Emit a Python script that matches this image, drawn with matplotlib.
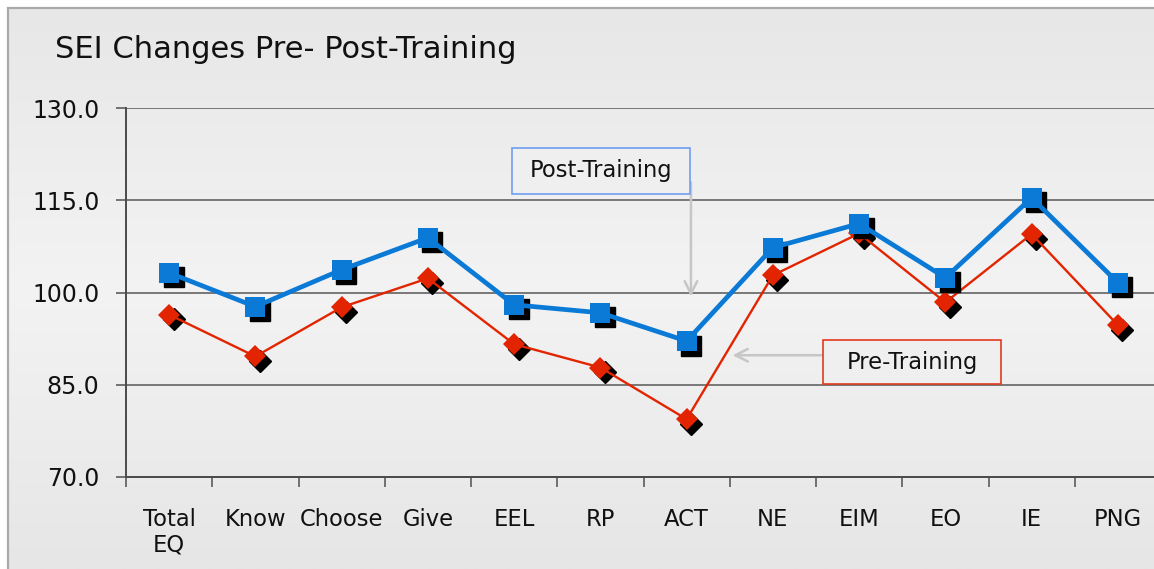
import numpy as np
import matplotlib
matplotlib.use("Agg")
import matplotlib.pyplot as plt
import matplotlib.transforms as mtransforms
from matplotlib.patches import Rectangle
from matplotlib.colors import LinearSegmentedColormap

categories = ["Total\nEQ", "Know", "Choose", "Give", "EEL", "RP", "ACT",
              "NE", "EIM", "EO", "IE", "PNG"]
post_training = [103.2, 97.7, 103.7, 108.9, 98.0, 96.7, 92.1,
                 107.3, 111.2, 102.4, 115.4, 101.6]
pre_training = [96.4, 89.6, 97.6, 102.3, 91.6, 87.8, 79.4,
                102.8, 109.6, 98.4, 109.5, 94.7]
y_ticks = [70.0, 85.0, 100.0, 115.0, 130.0]
title = "SEI Changes Pre- Post-Training"

plt.rcParams['font.family'] = ['DejaVu Sans']

W, H = 1154, 569
fig = plt.figure(figsize=(W / 100, H / 100), dpi=100)
fig.patch.set_facecolor("white")

# background gradient panel
bg = fig.add_axes([8 / W, 0, 1 - 8 / W + 0.01, 1 - 8 / H], zorder=-5)
cmap = LinearSegmentedColormap.from_list(
    "bg", [(0.0, "#e7e7e7"), (0.5, "#f3f3f3"), (1.0, "#e6e6e6")])
grad = np.linspace(0, 1, 256).reshape(-1, 1)
bg.imshow(grad, aspect="auto", cmap=cmap, extent=[0, 1, 0, 1], origin="upper")
bg.set_xlim(0, 1)
bg.set_ylim(0, 1)
bg.axis("off")
fig.patches.append(Rectangle((8 / W, -0.01), 1.0, 1 - 8 / H + 0.01,
                             transform=fig.transFigure, facecolor="none",
                             edgecolor="#a9a9a9", linewidth=1.6, zorder=-4))

left = 126 / W
right = 1161 / W
bottom = 1 - 477 / H
top = 1 - 108 / H
ax = fig.add_axes([left, bottom, right - left, top - bottom])
ax.set_facecolor("none")

x = np.arange(len(categories))
ax.set_xlim(-0.5, len(categories) - 0.5)
ax.set_ylim(70, 130)

shadow = mtransforms.offset_copy(ax.transData, fig=fig, x=4.5, y=-4.5, units="dots")

red = "#e22400"
blue = "#0a7ad6"

# pre-training
ax.plot(x, pre_training, linestyle="none", marker="D", markersize=11,
        color="black", transform=shadow, zorder=3, clip_on=False)
ax.plot(x, pre_training, color=red, linewidth=1.7, marker="D", markersize=11,
        markeredgewidth=0, zorder=4, clip_on=False)
# post-training
ax.plot(x, post_training, linestyle="none", marker="s", markersize=14.5,
        color="black", transform=shadow, zorder=5, clip_on=False)
ax.plot(x, post_training, color=blue, linewidth=3.4, marker="s", markersize=14.5,
        markeredgewidth=0, zorder=6, clip_on=False)

# axes styling
ax.set_yticks(y_ticks)
ax.set_yticklabels([f"{v:.1f}" for v in y_ticks])
ax.yaxis.grid(True, color="#6e6e6e", linewidth=1.3)
ax.set_axisbelow(True)
ax.tick_params(axis="y", length=7, width=1.1, color="#505050", pad=12,
               labelsize=17, labelcolor="#111111")

ax.set_xticks(x)
ax.set_xticklabels(categories, fontsize=16.3, color="#111111", linespacing=1.15)
ax.set_xticks(np.arange(-0.5, len(categories), 1.0), minor=True)
ax.tick_params(axis="x", which="major", length=0, pad=22)
ax.tick_params(axis="x", which="minor", length=7, width=1.1, color="#505050")

for side in ["top", "right"]:
    ax.spines[side].set_visible(False)
for side in ["left", "bottom"]:
    ax.spines[side].set_color("#4a4a4a")
    ax.spines[side].set_linewidth(1.4)

# title
fig.text(55 / W, 1 - 50 / H, title, fontsize=22, color="#111111",
         ha="left", va="center")

# annotations
arrow_color = "#c6c6c6"
ax.annotate("", xy=(6.05, 98.9), xycoords="data",
            xytext=(6.05, 118.4), textcoords="data",
            arrowprops=dict(arrowstyle="->,head_length=0.9,head_width=0.45",
                            color=arrow_color, lw=1.8), zorder=2)
ax.annotate("", xy=(6.5, 89.8), xycoords="data",
            xytext=(7.6, 89.8), textcoords="data",
            arrowprops=dict(arrowstyle="->,head_length=0.9,head_width=0.45",
                            color=arrow_color, lw=1.8), zorder=2)

fig.text(601 / W, 1 - 171 / H, "Post-Training", fontsize=16.3, color="#111111",
         ha="center", va="center")
fig.patches.append(Rectangle((512 / W, 1 - 194 / H), 178 / W, 46 / H,
                             transform=fig.transFigure, facecolor="#efefef",
                             edgecolor="#6f9ef2", linewidth=1.2, zorder=1))
fig.text(912 / W, 1 - 362 / H, "Pre-Training", fontsize=16.3, color="#111111",
         ha="center", va="center", zorder=8)
fig.patches.append(Rectangle((823 / W, 1 - 384 / H), 178 / W, 44 / H,
                             transform=fig.transFigure, facecolor="#efefef",
                             edgecolor="#e23a1c", linewidth=1.2, zorder=1))

fig.savefig("out.png", dpi=100)
